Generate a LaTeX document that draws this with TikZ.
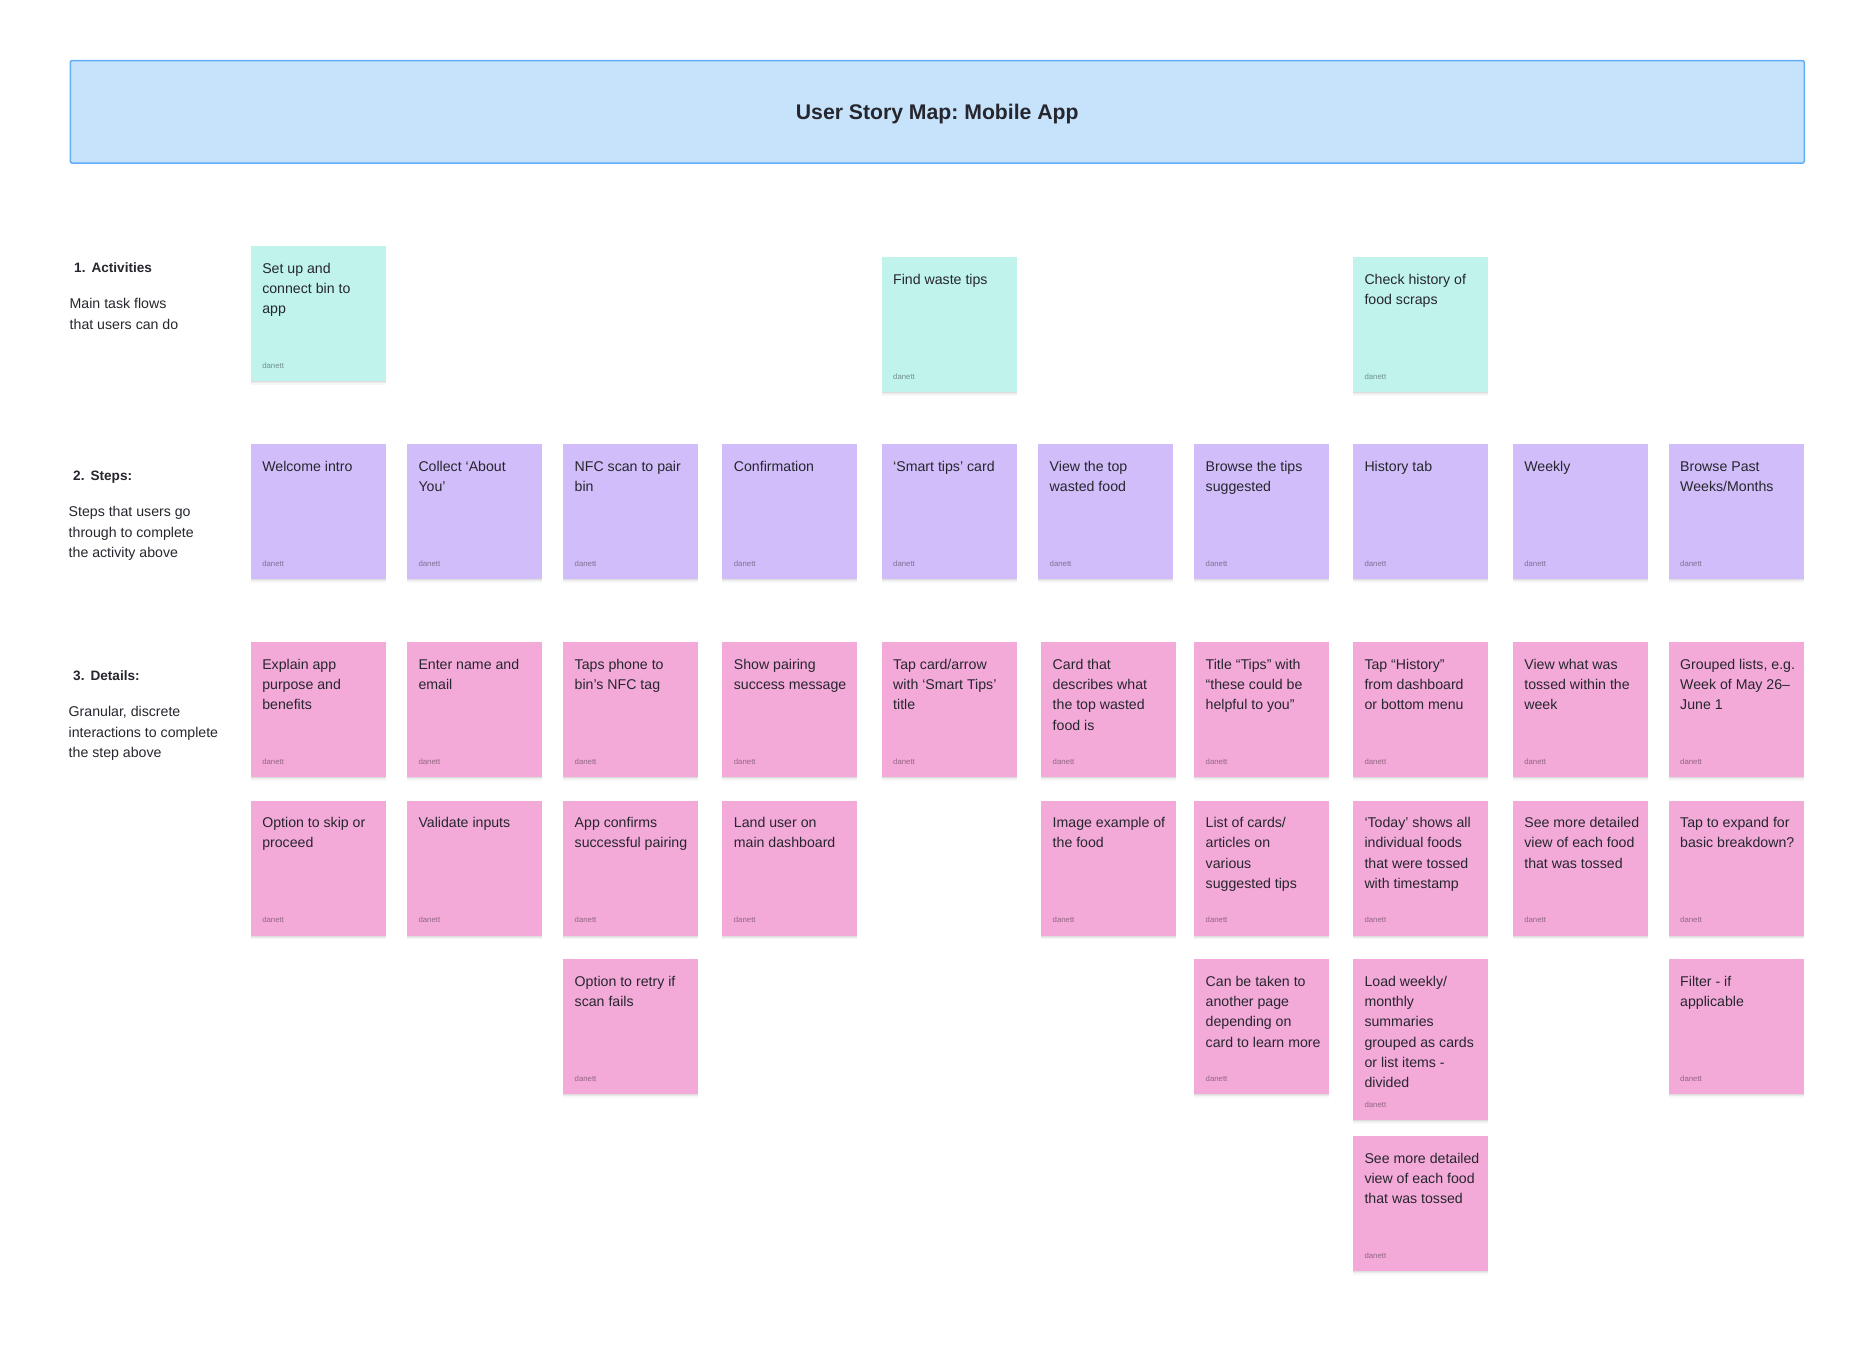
\documentclass[tikz,border=0pt]{standalone}
\usepackage{fontspec}
\setmainfont{Liberation Sans}
\frenchspacing
\usetikzlibrary{shadows}
\definecolor{teal1}{HTML}{BFF3EC}
\definecolor{purple1}{HTML}{D1BDF9}
\definecolor{pink1}{HTML}{F4AAD9}
\definecolor{bluefill}{HTML}{C7E3FC}
\definecolor{blueline}{HTML}{63AEF9}
\definecolor{ink}{HTML}{26262E}
\tikzset{
  x=1pt,y=-1pt,
  cardbox/.style={rectangle,draw=none,minimum width=135pt,inner sep=0pt,
    general shadow={fill=black,opacity=.03,shadow xshift=0pt,shadow yshift=-3.5pt},
    general shadow={fill=black,opacity=.05,shadow xshift=0pt,shadow yshift=-2.2pt},
    general shadow={fill=black,opacity=.05,shadow xshift=0pt,shadow yshift=-1pt}},
  activity/.style={fill=teal1},
  stepcard/.style={fill=purple1},
  detail/.style={fill=pink1},
  cardtext/.style={inner sep=0pt,align=left,text=ink,font=\fontsize{14.15}{20.3}\selectfont},
  cardauthor/.style={inner sep=0pt,text=black,text opacity=.4,font=\fontsize{7.8}{10}\selectfont},
  heading/.style={inner sep=0pt,anchor=base west,text=ink,font=\bfseries\fontsize{13.6}{20.3}\selectfont},
  descr/.style={inner sep=0pt,anchor=north west,align=left,text=ink,font=\fontsize{14.15}{20.3}\selectfont},
  titlebox/.style={rectangle,rounded corners=1.5pt,fill=bluefill,draw=blueline,line width=1.5pt,
    minimum width=1734pt,minimum height=102.5pt,inner sep=0pt,text=ink,
    font=\bfseries\fontsize{21.2}{28}\selectfont}
}
\newcommand\card[6][135]{%
  \node[cardbox,#5,minimum height=#1pt,anchor=north west] (#2) at (#3,#4) {};
  \node[cardtext,anchor=north west] (#2t) at ([xshift=11.5pt,yshift=-12.9pt]#2.north west) {\rule{0pt}{14pt}#6};
  \node[cardauthor,anchor=base west] (#2a) at ([xshift=11.5pt,yshift=13pt]#2.south west) {danett};
}
\begin{document}
\begin{tikzpicture}
\useasboundingbox (0,0) rectangle (1866,1348);
\fill[white] (0,0) rectangle (1866,1348);
\node[titlebox,anchor=north west] (title) at (69.5,59.8) {\raisebox{-7.6pt}[0pt][0pt]{User Story Map: Mobile App}};

% row labels
\node[heading] (h1) at (74,273) {1.\hspace{6pt}Activities};
\node[descr] (d1) at (69.5,294.6) {\rule{0pt}{14pt}Main task flows\\that users can do};
\node[heading] (h2) at (73,480.5) {2.\hspace{6pt}Steps:};
\node[descr] (d2) at (68.5,502.6) {\rule{0pt}{14pt}Steps that users go\\through to complete\\the activity above};
\node[heading] (h3) at (73,680.5) {3.\hspace{6pt}Details:};
\node[descr] (d3) at (68.5,702.6) {\rule{0pt}{14pt}Granular, discrete\\interactions to complete\\the step above};

% activities
\card{a1}{250.6}{246}{activity}{Set up and\\connect bin to\\app}
\card{a5}{881.5}{257}{activity}{Find waste tips}
\card{a8}{1352.8}{257}{activity}{Check history of\\food scraps}

% steps
\card{s1}{250.6}{444}{stepcard}{Welcome intro}
\card{s2}{406.8}{444}{stepcard}{Collect ‘About\\You’}
\card{s3}{563}{444}{stepcard}{NFC scan to pair\\bin}
\card{s4}{722.2}{444}{stepcard}{Confirmation}
\card{s5}{881.5}{444}{stepcard}{‘Smart tips’ card}
\card{s6}{1038}{444}{stepcard}{View the top\\wasted food}
\card{s7}{1194}{444}{stepcard}{Browse the tips\\suggested}
\card{s8}{1352.8}{444}{stepcard}{History tab}
\card{s9}{1512.6}{444}{stepcard}{Weekly}
\card{s10}{1668.5}{444}{stepcard}{Browse Past\\Weeks/Months}

% details, first row
\card{p1}{250.6}{642}{detail}{Explain app\\purpose and\\benefits}
\card{p2}{406.8}{642}{detail}{Enter name and\\email}
\card{p3}{563}{642}{detail}{Taps phone to\\bin’s NFC tag}
\card{p4}{722.2}{642}{detail}{Show pairing\\success message}
\card{p5}{881.5}{642}{detail}{Tap card/arrow\\with ‘Smart Tips’\\title}
\card{p6}{1041}{642}{detail}{Card that\\describes what\\the top wasted\\food is}
\card{p7}{1194}{642}{detail}{Title “Tips” with\\“these could be\\helpful to you”}
\card{p8}{1352.8}{642}{detail}{Tap “History”\\from dashboard\\or bottom menu}
\card{p9}{1512.6}{642}{detail}{View what was\\tossed within the\\week}
\card{p10}{1668.5}{642}{detail}{Grouped lists, e.g.\\Week of May 26–\\June 1}

% details, second row
\card{q1}{250.6}{800.3}{detail}{Option to skip or\\proceed}
\card{q2}{406.8}{800.3}{detail}{Validate inputs}
\card{q3}{563}{800.3}{detail}{App confirms\\successful pairing}
\card{q4}{722.2}{800.3}{detail}{Land user on\\main dashboard}
\card{q6}{1041}{800.3}{detail}{Image example of\\the food}
\card{q7}{1194}{800.3}{detail}{List of cards/\\articles on\\various\\suggested tips}
\card{q8}{1352.8}{800.3}{detail}{‘Today’ shows all\\individual foods\\that were tossed\\with timestamp}
\card{q9}{1512.6}{800.3}{detail}{See more detailed\\view of each food\\that was tossed}
\card{q10}{1668.5}{800.3}{detail}{Tap to expand for\\basic breakdown?}

% details, third row
\card{r3}{563}{959}{detail}{Option to retry if\\scan fails}
\card{r7}{1194}{959}{detail}{Can be taken to\\another page\\depending on\\card to learn more}
\card[161]{r8}{1352.8}{959}{detail}{Load weekly/\\monthly\\summaries\\grouped as cards\\or list items -\\divided}
\card{r10}{1668.5}{959}{detail}{Filter - if\\applicable}

% details, fourth row
\card{t8}{1352.8}{1136}{detail}{See more detailed\\view of each food\\that was tossed}
\end{tikzpicture}
\end{document}
